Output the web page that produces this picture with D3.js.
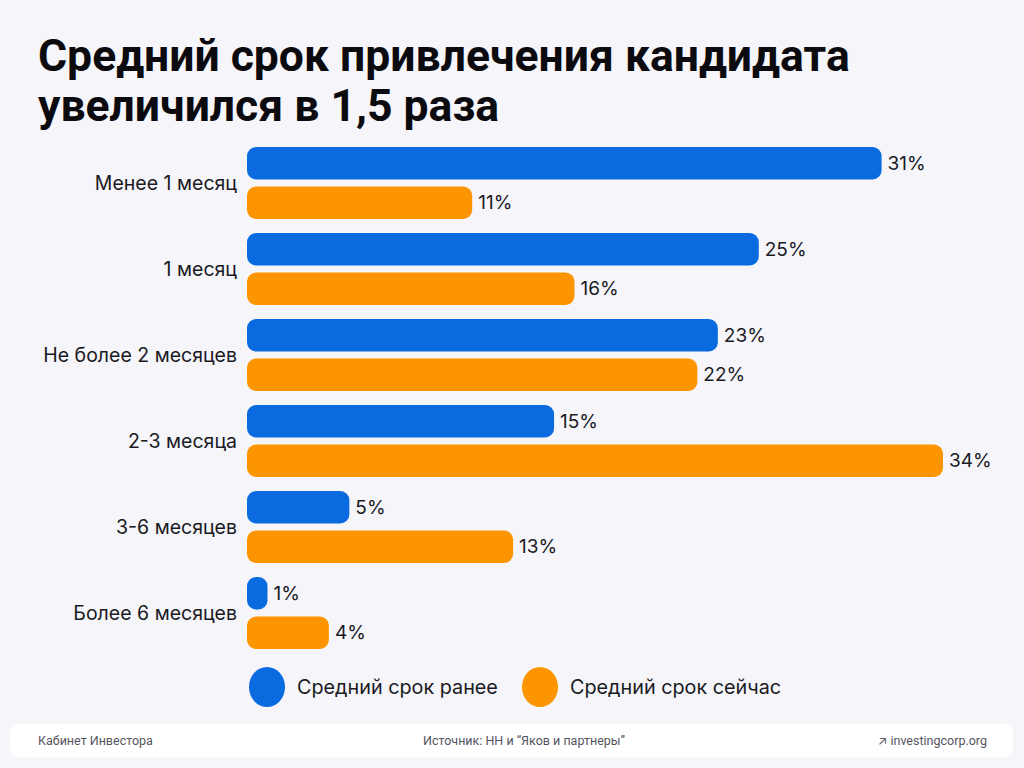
<!DOCTYPE html>
<html><head><meta charset="utf-8">
<script src="https://cdn.jsdelivr.net/npm/d3@7"></script>
<style>
html,body{margin:0;padding:0;background:#f5f5fa;}
svg{display:block;}
</style></head>
<body>
<svg id="c" width="1024" height="768"></svg>
<script>
const titleLines = ["Средний срок привлечения кандидата", "увеличился в 1,5 раза"];
const categories = ["Менее 1 месяц", "1 месяц", "Не более 2 месяцев", "2-3 месяца", "3-6 месяцев", "Более 6 месяцев"];
const seriesNames = ["Средний срок ранее", "Средний срок сейчас"];
const before = [31, 25, 23, 15, 5, 1];
const now = [11, 16, 22, 34, 13, 4];
const colors = ["#0a6be0", "#fd9500"];
const footerLeft = "Кабинет Инвестора";
const footerMid = "Источник: НН и “Яков и партнеры”";
const footerRight = "↗ investingcorp.org";

const svg = d3.select("#c");
const font = "Inter, 'Noto Sans', sans-serif";

svg.append("rect").attr("width",1024).attr("height",768).attr("fill","#f5f5fa");

// Title
const t = svg.append("text").attr("font-family", "Roboto, Inter, sans-serif").attr("font-weight", 700)
  .attr("font-size", 44.5).attr("fill", "#0b0b0f");
titleLines.forEach((l,i)=>{
  t.append("tspan").attr("x", 38).attr("y", 71 + i*50).text(l);
});

const x = d3.scaleLinear().domain([0, 34]).range([247, 943]);
const y = d3.scaleBand().domain(categories).range([147, 147 + 86*6]).paddingInner(0);
const sub = d3.scaleBand().domain(seriesNames).range([0, 72]).paddingInner(0.18);

const groups = svg.append("g").selectAll("g").data(categories).join("g")
  .attr("transform", d => `translate(0,${y(d)})`);

groups.append("text").attr("x", 237).attr("y", 36).attr("dy", "0.35em")
  .attr("text-anchor", "end").attr("font-family", font).attr("font-size", 19.5)
  .attr("fill", "#1a1a1f").text(d => d);

groups.each(function(c, i){
  const g = d3.select(this);
  const vals = [before[i], now[i]];
  vals.forEach((v, j) => {
    const s = seriesNames[j];
    g.append("rect").attr("x", x(0)).attr("y", sub(s))
      .attr("width", x(v) - x(0)).attr("height", sub.bandwidth())
      .attr("rx", 9).attr("ry", 9).attr("fill", colors[j]);
    g.append("text").attr("x", x(v) + 6).attr("y", sub(s) + sub.bandwidth()/2).attr("dy", "0.35em")
      .attr("font-family", font).attr("font-size", 19).attr("fill", "#1a1a1f").text(v + "%");
  });
});

// Legend
const legX = [267, 540];
seriesNames.forEach((s, j) => {
  svg.append("ellipse").attr("cx", legX[j]).attr("cy", 687).attr("rx", 18).attr("ry", 20).attr("fill", colors[j]);
  svg.append("text").attr("x", legX[j] + 30).attr("y", 687).attr("dy", "0.35em")
    .attr("font-family", font).attr("font-size", 19.8).attr("fill", "#1a1a1f").text(s);
});

// Footer
svg.append("rect").attr("x", 10).attr("y", 724).attr("width", 1003).attr("height", 33).attr("rx", 8).attr("fill", "#ffffff");
const ff = "Roboto, Inter, sans-serif";
svg.append("text").attr("x", 38).attr("y", 741).attr("dy","0.35em").attr("font-family", ff).attr("font-size", 12.5).attr("fill", "#55555f").text(footerLeft);
svg.append("text").attr("x", 524).attr("y", 741).attr("dy","0.35em").attr("text-anchor","middle").attr("font-family", ff).attr("font-size", 12.5).attr("fill", "#55555f").text(footerMid);
svg.append("text").attr("x", 987).attr("y", 741).attr("dy","0.35em").attr("text-anchor","end").attr("font-family", ff).attr("font-size", 12.5).attr("fill", "#55555f").text(footerRight);
</script>
</body></html>
